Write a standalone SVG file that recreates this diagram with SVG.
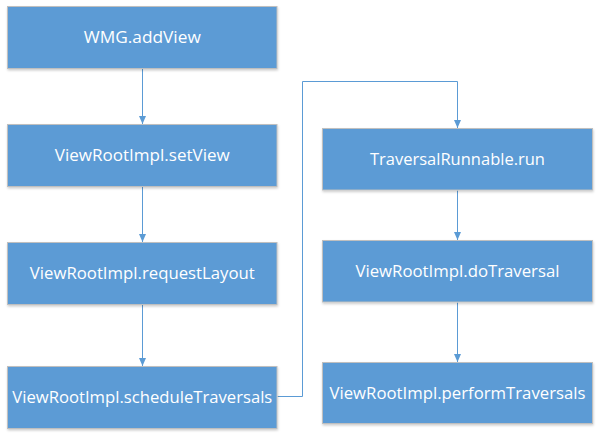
<svg xmlns="http://www.w3.org/2000/svg" width="597" height="435" viewBox="0 0 597 435">
<style>
.box{fill:#5B9BD5;stroke:#BFBFBF;stroke-width:1}
.lbl{fill:#FFFFFF;font-family:"Open Sans","Liberation Sans",sans-serif;font-size:15.5px;text-anchor:middle}
.con{fill:none;stroke:#5B9BD5;stroke-width:1}
</style>
<defs>
<filter id="sh" x="-5%" y="-10%" width="110%" height="130%">
<feDropShadow dx="0.5" dy="1.5" stdDeviation="1" flood-color="#000" flood-opacity="0.2"/>
</filter>
<marker id="arr" viewBox="0 0 8 7" refX="8" refY="3.5" markerWidth="8" markerHeight="7" orient="auto" markerUnits="userSpaceOnUse">
<path d="M0,0 L8,3.5 L0,7 Z" fill="#5B9BD5"/>
</marker>
</defs>
<rect width="597" height="435" fill="#FFFFFF"/>
<g id="connectors">
<line class="con" x1="142.5" y1="68.5" x2="142.5" y2="124" marker-end="url(#arr)"/>
<line class="con" x1="142.5" y1="186.5" x2="142.5" y2="242" marker-end="url(#arr)"/>
<line class="con" x1="142.5" y1="304.5" x2="142.5" y2="366" marker-end="url(#arr)"/>
<polyline class="con" points="277.5,396.5 302.5,396.5 302.5,81.5 457.5,81.5 457.5,128" marker-end="url(#arr)"/>
<line class="con" x1="457.5" y1="190.5" x2="457.5" y2="240" marker-end="url(#arr)"/>
<line class="con" x1="457.5" y1="302.5" x2="457.5" y2="362" marker-end="url(#arr)"/>
</g>
<g id="n1"><rect class="box" filter="url(#sh)" x="7.5" y="6.5" width="269.5" height="62"/><text class="lbl" x="142.3" y="43" textLength="117" lengthAdjust="spacingAndGlyphs">WMG.addView</text></g>
<g id="n2"><rect class="box" filter="url(#sh)" x="7.5" y="124.5" width="269.5" height="62"/><text class="lbl" x="142.3" y="161" textLength="175" lengthAdjust="spacingAndGlyphs">ViewRootImpl.setView</text></g>
<g id="n3"><rect class="box" filter="url(#sh)" x="7.5" y="242.5" width="269.5" height="62"/><text class="lbl" x="142.3" y="279" textLength="225" lengthAdjust="spacingAndGlyphs">ViewRootImpl.requestLayout</text></g>
<g id="n4"><rect class="box" filter="url(#sh)" x="7.5" y="366.5" width="269.5" height="62"/><text class="lbl" x="142.3" y="403" textLength="260" lengthAdjust="spacingAndGlyphs">ViewRootImpl.scheduleTraversals</text></g>
<g id="n5"><rect class="box" filter="url(#sh)" x="322.5" y="128.5" width="270" height="61.5"/><text class="lbl" x="457.5" y="165" textLength="175" lengthAdjust="spacingAndGlyphs">TraversalRunnable.run</text></g>
<g id="n6"><rect class="box" filter="url(#sh)" x="322.5" y="240.5" width="270" height="61.5"/><text class="lbl" x="457.5" y="277" textLength="204" lengthAdjust="spacingAndGlyphs">ViewRootImpl.doTraversal</text></g>
<g id="n7"><rect class="box" filter="url(#sh)" x="322.5" y="362.5" width="270" height="61"/><text class="lbl" x="457.5" y="399" textLength="256" lengthAdjust="spacingAndGlyphs">ViewRootImpl.performTraversals</text></g>
</svg>
